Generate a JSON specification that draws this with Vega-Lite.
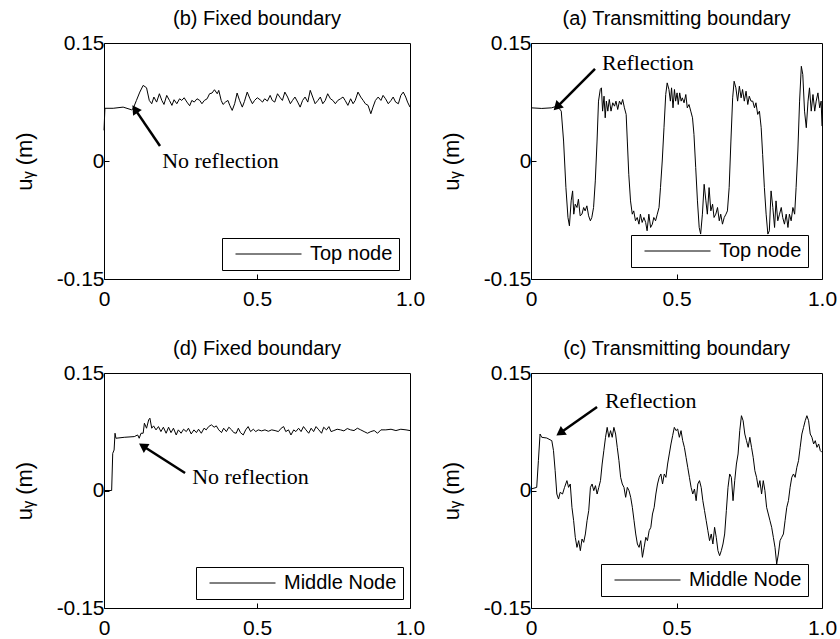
{
"$schema": "https://vega.github.io/schema/vega-lite/v6.json",
"padding": {"left": 12, "top": 8, "right": 5, "bottom": 2},
"background": "white",
"config": {
 "view": {"stroke": "black", "strokeWidth": 1},
 "font": "Liberation Sans",
 "axis": {"grid": false, "domain": false, "labelFontSize": 21, "titleFontSize": 22, "titleFontWeight": "normal", "labelColor": "black", "titleColor": "black", "tickColor": "black", "tickSize": -5, "labelPadding": 6, "labelFont": "Liberation Sans", "titleFont": "Liberation Sans", "labelFlush": false},
 "axisX": {"labelPadding": 14},
 "axisY": {"titlePadding": 20, "labelPadding": 5},
 "title": {"fontSize": 20, "fontWeight": "normal", "color": "black", "offset": 3, "font": "Liberation Sans"},
 "legend": {"strokeColor": "black", "fillColor": "white", "padding": 6, "symbolType": "stroke", "symbolSize": 4356, "symbolStrokeWidth": 1, "symbolOffset": 7, "labelOffset": 8, "labelFontSize": 20, "labelFont": "Liberation Sans", "labelColor": "black", "cornerRadius": 0, "clipHeight": 20}
},
"datasets": {
 "b": [
  {"t":0,"u":0.039},{"t":0.003,"u":0.067},{"t":0.03,"u":0.067},{"t":0.0625,"u":0.0685},{"t":0.09,"u":0.0651},{"t":0.095,"u":0.0664},{"t":0.106,"u":0.077},{"t":0.117,"u":0.0876},{"t":0.128,"u":0.0961},{"t":0.139,"u":0.0931},{"t":0.148,"u":0.077},{"t":0.156,"u":0.0728},{"t":0.163,"u":0.0813},{"t":0.172,"u":0.0749},{"t":0.181,"u":0.0855},{"t":0.189,"u":0.077},{"t":0.196,"u":0.0719},{"t":0.205,"u":0.0834},{"t":0.214,"u":0.077},{"t":0.222,"u":0.0707},{"t":0.229,"u":0.0779},{"t":0.238,"u":0.0728},{"t":0.247,"u":0.0791},{"t":0.254,"u":0.077},{"t":0.262,"u":0.0804},{"t":0.271,"u":0.0749},{"t":0.28,"u":0.0702},{"t":0.287,"u":0.077},{"t":0.295,"u":0.0749},{"t":0.304,"u":0.0791},{"t":0.313,"u":0.077},{"t":0.32,"u":0.0728},{"t":0.328,"u":0.077},{"t":0.337,"u":0.0791},{"t":0.345,"u":0.0855},{"t":0.353,"u":0.0864},{"t":0.361,"u":0.0906},{"t":0.37,"u":0.0855},{"t":0.375,"u":0.0898},{"t":0.383,"u":0.077},{"t":0.389,"u":0.0719},{"t":0.397,"u":0.0749},{"t":0.405,"u":0.077},{"t":0.411,"u":0.0707},{"t":0.419,"u":0.0643},{"t":0.427,"u":0.0728},{"t":0.435,"u":0.0864},{"t":0.443,"u":0.077},{"t":0.452,"u":0.0685},{"t":0.459,"u":0.0758},{"t":0.468,"u":0.0876},{"t":0.477,"u":0.0791},{"t":0.485,"u":0.0728},{"t":0.492,"u":0.077},{"t":0.501,"u":0.0804},{"t":0.51,"u":0.0779},{"t":0.518,"u":0.0749},{"t":0.525,"u":0.0791},{"t":0.534,"u":0.0762},{"t":0.543,"u":0.0834},{"t":0.55,"u":0.077},{"t":0.558,"u":0.0749},{"t":0.567,"u":0.0855},{"t":0.576,"u":0.0804},{"t":0.583,"u":0.077},{"t":0.591,"u":0.0876},{"t":0.6,"u":0.0813},{"t":0.609,"u":0.0728},{"t":0.616,"u":0.077},{"t":0.624,"u":0.0813},{"t":0.633,"u":0.0749},{"t":0.641,"u":0.0685},{"t":0.649,"u":0.077},{"t":0.657,"u":0.0813},{"t":0.666,"u":0.0749},{"t":0.674,"u":0.0898},{"t":0.682,"u":0.0813},{"t":0.69,"u":0.0728},{"t":0.699,"u":0.077},{"t":0.707,"u":0.0813},{"t":0.715,"u":0.0728},{"t":0.723,"u":0.077},{"t":0.731,"u":0.0855},{"t":0.74,"u":0.0791},{"t":0.748,"u":0.077},{"t":0.756,"u":0.0728},{"t":0.764,"u":0.077},{"t":0.773,"u":0.0791},{"t":0.781,"u":0.0813},{"t":0.788,"u":0.077},{"t":0.797,"u":0.0707},{"t":0.806,"u":0.0791},{"t":0.814,"u":0.0728},{"t":0.821,"u":0.077},{"t":0.83,"u":0.0876},{"t":0.839,"u":0.0813},{"t":0.847,"u":0.077},{"t":0.854,"u":0.0728},{"t":0.863,"u":0.0707},{"t":0.872,"u":0.0601},{"t":0.879,"u":0.0685},{"t":0.887,"u":0.077},{"t":0.896,"u":0.0813},{"t":0.905,"u":0.077},{"t":0.912,"u":0.0834},{"t":0.92,"u":0.0791},{"t":0.929,"u":0.0728},{"t":0.938,"u":0.077},{"t":0.945,"u":0.0813},{"t":0.953,"u":0.0749},{"t":0.962,"u":0.0728},{"t":0.97,"u":0.0834},{"t":0.978,"u":0.0876},{"t":0.986,"u":0.0813},{"t":0.992,"u":0.0749},{"t":1.0,"u":0.0685}
 ],
 "a": [
  {"t":0,"u":0.0676},{"t":0.037,"u":0.0668},{"t":0.071,"u":0.0676},{"t":0.089,"u":0.0697},{"t":0.097,"u":0.0668},{"t":0.104,"u":0.0634},{"t":0.112,"u":0.0254},{"t":0.12,"u":-0.0338},{"t":0.127,"u":-0.0718},{"t":0.132,"u":-0.0824},{"t":0.138,"u":-0.0507},{"t":0.143,"u":-0.038},{"t":0.147,"u":-0.0676},{"t":0.152,"u":-0.0549},{"t":0.158,"u":-0.0591},{"t":0.163,"u":-0.0486},{"t":0.169,"u":-0.0697},{"t":0.175,"u":-0.0676},{"t":0.181,"u":-0.0591},{"t":0.186,"u":-0.0634},{"t":0.192,"u":-0.057},{"t":0.198,"u":-0.0697},{"t":0.204,"u":-0.076},{"t":0.209,"u":-0.0718},{"t":0.215,"u":-0.0591},{"t":0.221,"u":-0.0253},{"t":0.227,"u":0.0254},{"t":0.232,"u":0.0761},{"t":0.238,"u":0.0909},{"t":0.242,"u":0.093},{"t":0.246,"u":0.0634},{"t":0.251,"u":0.0824},{"t":0.255,"u":0.0549},{"t":0.259,"u":0.0761},{"t":0.264,"u":0.0634},{"t":0.269,"u":0.0782},{"t":0.275,"u":0.0634},{"t":0.281,"u":0.074},{"t":0.287,"u":0.0697},{"t":0.292,"u":0.0761},{"t":0.298,"u":0.0655},{"t":0.304,"u":0.0761},{"t":0.31,"u":0.0718},{"t":0.315,"u":0.0782},{"t":0.321,"u":0.0676},{"t":0.327,"u":0.0592},{"t":0.331,"u":0.0254},{"t":0.336,"u":-0.0169},{"t":0.342,"u":-0.0507},{"t":0.348,"u":-0.0676},{"t":0.353,"u":-0.0634},{"t":0.359,"u":-0.076},{"t":0.365,"u":-0.0718},{"t":0.371,"u":-0.0803},{"t":0.376,"u":-0.0676},{"t":0.382,"u":-0.0781},{"t":0.388,"u":-0.0718},{"t":0.394,"u":-0.0781},{"t":0.399,"u":-0.0887},{"t":0.405,"u":-0.0676},{"t":0.411,"u":-0.0845},{"t":0.417,"u":-0.0803},{"t":0.422,"u":-0.0718},{"t":0.428,"u":-0.076},{"t":0.434,"u":-0.0676},{"t":0.44,"u":-0.0591},{"t":0.445,"u":-0.0338},{"t":0.451,"u":0.0},{"t":0.457,"u":0.0423},{"t":0.463,"u":0.0845},{"t":0.468,"u":0.0993},{"t":0.474,"u":0.0909},{"t":0.479,"u":0.0761},{"t":0.483,"u":0.093},{"t":0.488,"u":0.0676},{"t":0.493,"u":0.0909},{"t":0.497,"u":0.0761},{"t":0.502,"u":0.0866},{"t":0.506,"u":0.0718},{"t":0.511,"u":0.0866},{"t":0.516,"u":0.0761},{"t":0.52,"u":0.0803},{"t":0.526,"u":0.074},{"t":0.532,"u":0.0845},{"t":0.537,"u":0.0676},{"t":0.543,"u":0.0718},{"t":0.549,"u":0.0634},{"t":0.555,"u":0.0549},{"t":0.56,"u":0.0338},{"t":0.566,"u":-0.0084},{"t":0.572,"u":-0.0507},{"t":0.578,"u":-0.0845},{"t":0.583,"u":-0.0929},{"t":0.589,"u":-0.0676},{"t":0.595,"u":-0.0296},{"t":0.601,"u":-0.0507},{"t":0.606,"u":-0.0676},{"t":0.612,"u":-0.0338},{"t":0.618,"u":-0.0634},{"t":0.624,"u":-0.0549},{"t":0.629,"u":-0.0718},{"t":0.635,"u":-0.0676},{"t":0.641,"u":-0.0591},{"t":0.647,"u":-0.076},{"t":0.652,"u":-0.0676},{"t":0.658,"u":-0.0803},{"t":0.664,"u":-0.0718},{"t":0.67,"u":-0.0676},{"t":0.675,"u":-0.0634},{"t":0.681,"u":-0.0338},{"t":0.687,"u":0.0254},{"t":0.693,"u":0.0803},{"t":0.698,"u":0.1014},{"t":0.704,"u":0.093},{"t":0.71,"u":0.0761},{"t":0.716,"u":0.0951},{"t":0.722,"u":0.0803},{"t":0.727,"u":0.0909},{"t":0.733,"u":0.0761},{"t":0.739,"u":0.0887},{"t":0.745,"u":0.0718},{"t":0.75,"u":0.0824},{"t":0.756,"u":0.0761},{"t":0.762,"u":0.0761},{"t":0.768,"u":0.0676},{"t":0.773,"u":0.074},{"t":0.779,"u":0.0592},{"t":0.785,"u":0.0634},{"t":0.791,"u":0.0423},{"t":0.796,"u":0.0085},{"t":0.802,"u":-0.0338},{"t":0.808,"u":-0.0676},{"t":0.814,"u":-0.0929},{"t":0.819,"u":-0.0887},{"t":0.825,"u":-0.038},{"t":0.831,"u":-0.0591},{"t":0.837,"u":-0.0845},{"t":0.842,"u":-0.0507},{"t":0.848,"u":-0.076},{"t":0.854,"u":-0.0676},{"t":0.86,"u":-0.0591},{"t":0.865,"u":-0.0718},{"t":0.871,"u":-0.0803},{"t":0.877,"u":-0.0676},{"t":0.883,"u":-0.0845},{"t":0.888,"u":-0.0676},{"t":0.894,"u":-0.076},{"t":0.9,"u":-0.0591},{"t":0.906,"u":-0.0676},{"t":0.911,"u":-0.0338},{"t":0.917,"u":0.0127},{"t":0.923,"u":0.0761},{"t":0.929,"u":0.1204},{"t":0.934,"u":0.1099},{"t":0.94,"u":0.0634},{"t":0.946,"u":0.0423},{"t":0.952,"u":0.0761},{"t":0.957,"u":0.093},{"t":0.963,"u":0.0634},{"t":0.969,"u":0.0845},{"t":0.975,"u":0.0634},{"t":0.98,"u":0.0761},{"t":0.986,"u":0.0866},{"t":0.992,"u":0.0676},{"t":0.997,"u":0.0761},{"t":1.0,"u":0.0444}
 ],
 "d": [
  {"t":0,"u":0},{"t":0.025,"u":0},{"t":0.0285,"u":0.0474},{"t":0.033,"u":0.0517},{"t":0.036,"u":0.0731},{"t":0.039,"u":0.0667},{"t":0.066,"u":0.0679},{"t":0.099,"u":0.0688},{"t":0.11,"u":0.0709},{"t":0.115,"u":0.0667},{"t":0.121,"u":0.0731},{"t":0.128,"u":0.0731},{"t":0.132,"u":0.0859},{"t":0.139,"u":0.0795},{"t":0.146,"u":0.0902},{"t":0.15,"u":0.0923},{"t":0.156,"u":0.0795},{"t":0.162,"u":0.0825},{"t":0.17,"u":0.0774},{"t":0.178,"u":0.0816},{"t":0.186,"u":0.0752},{"t":0.194,"u":0.0808},{"t":0.203,"u":0.0731},{"t":0.211,"u":0.0808},{"t":0.219,"u":0.0739},{"t":0.227,"u":0.0795},{"t":0.236,"u":0.0709},{"t":0.243,"u":0.0774},{"t":0.252,"u":0.0731},{"t":0.26,"u":0.0782},{"t":0.269,"u":0.0752},{"t":0.276,"u":0.0795},{"t":0.285,"u":0.0722},{"t":0.294,"u":0.0774},{"t":0.302,"u":0.0739},{"t":0.309,"u":0.0782},{"t":0.318,"u":0.0731},{"t":0.327,"u":0.0795},{"t":0.334,"u":0.0774},{"t":0.342,"u":0.0816},{"t":0.351,"u":0.0838},{"t":0.36,"u":0.0808},{"t":0.367,"u":0.0825},{"t":0.375,"u":0.0774},{"t":0.384,"u":0.0739},{"t":0.391,"u":0.0795},{"t":0.4,"u":0.0752},{"t":0.408,"u":0.0808},{"t":0.417,"u":0.0774},{"t":0.424,"u":0.0739},{"t":0.432,"u":0.0731},{"t":0.439,"u":0.0795},{"t":0.446,"u":0.0739},{"t":0.455,"u":0.0709},{"t":0.463,"u":0.0774},{"t":0.471,"u":0.0816},{"t":0.479,"u":0.0752},{"t":0.488,"u":0.0782},{"t":0.496,"u":0.0752},{"t":0.504,"u":0.0774},{"t":0.515,"u":0.0761},{"t":0.526,"u":0.0774},{"t":0.537,"u":0.0756},{"t":0.548,"u":0.0774},{"t":0.559,"u":0.0765},{"t":0.57,"u":0.0752},{"t":0.579,"u":0.0795},{"t":0.587,"u":0.0816},{"t":0.594,"u":0.0752},{"t":0.603,"u":0.0774},{"t":0.611,"u":0.0709},{"t":0.62,"u":0.0774},{"t":0.627,"u":0.0752},{"t":0.636,"u":0.0795},{"t":0.644,"u":0.0752},{"t":0.652,"u":0.0816},{"t":0.66,"u":0.0774},{"t":0.669,"u":0.0731},{"t":0.677,"u":0.0795},{"t":0.685,"u":0.0752},{"t":0.693,"u":0.0816},{"t":0.702,"u":0.0774},{"t":0.711,"u":0.0731},{"t":0.718,"u":0.0808},{"t":0.727,"u":0.0774},{"t":0.735,"u":0.0816},{"t":0.742,"u":0.0752},{"t":0.751,"u":0.0765},{"t":0.762,"u":0.0782},{"t":0.773,"u":0.0774},{"t":0.784,"u":0.0761},{"t":0.795,"u":0.0791},{"t":0.806,"u":0.0774},{"t":0.817,"u":0.0765},{"t":0.828,"u":0.0795},{"t":0.839,"u":0.0774},{"t":0.85,"u":0.0752},{"t":0.861,"u":0.0731},{"t":0.872,"u":0.0752},{"t":0.883,"u":0.0765},{"t":0.894,"u":0.0731},{"t":0.905,"u":0.0774},{"t":0.921,"u":0.0774},{"t":0.938,"u":0.0782},{"t":0.954,"u":0.0765},{"t":0.97,"u":0.0782},{"t":0.987,"u":0.0774},{"t":1.0,"u":0.0765}
 ],
 "c": [
  {"t":0,"u":0.0019},{"t":0.0196,"u":0.004},{"t":0.0254,"u":0.0381},{"t":0.0311,"u":0.0721},{"t":0.0369,"u":0.0679},{"t":0.0542,"u":0.067},{"t":0.0715,"u":0.0636},{"t":0.0773,"u":0.0509},{"t":0.083,"u":0.0253},{"t":0.0888,"u":-0.0045},{"t":0.0946,"u":-0.0109},{"t":0.1003,"u":-0.0023},{"t":0.1084,"u":-0.0045},{"t":0.1153,"u":0.004},{"t":0.1234,"u":0.0126},{"t":0.1292,"u":0.004},{"t":0.1349,"u":0.0083},{"t":0.1407,"u":-0.0215},{"t":0.1465,"u":-0.0385},{"t":0.1522,"u":-0.0598},{"t":0.158,"u":-0.0726},{"t":0.1638,"u":-0.064},{"t":0.1696,"u":-0.0768},{"t":0.1753,"u":-0.0619},{"t":0.1811,"u":-0.0662},{"t":0.1869,"u":-0.0555},{"t":0.1926,"u":-0.0385},{"t":0.1984,"u":-0.0257},{"t":0.2042,"u":0.004},{"t":0.2099,"u":0.0083},{"t":0.2157,"u":-0.0002},{"t":0.2215,"u":0.0062},{"t":0.2272,"u":-0.0045},{"t":0.233,"u":0.004},{"t":0.2388,"u":0.0126},{"t":0.2445,"u":0.0338},{"t":0.2503,"u":0.0509},{"t":0.2561,"u":0.0679},{"t":0.2618,"u":0.0806},{"t":0.2676,"u":0.0679},{"t":0.2734,"u":0.0764},{"t":0.2791,"u":0.0679},{"t":0.2849,"u":0.0806},{"t":0.2907,"u":0.0721},{"t":0.2964,"u":0.0551},{"t":0.3022,"u":0.0381},{"t":0.308,"u":0.0168},{"t":0.3137,"u":0.0083},{"t":0.3195,"u":0.004},{"t":0.3253,"u":-0.0087},{"t":0.331,"u":0.004},{"t":0.3368,"u":-0.0002},{"t":0.3426,"u":-0.0087},{"t":0.3483,"u":-0.0215},{"t":0.3541,"u":-0.0385},{"t":0.3599,"u":-0.0555},{"t":0.3656,"u":-0.0683},{"t":0.3714,"u":-0.0726},{"t":0.3772,"u":-0.064},{"t":0.3829,"u":-0.0853},{"t":0.3887,"u":-0.0726},{"t":0.3945,"u":-0.0598},{"t":0.4002,"u":-0.064},{"t":0.406,"u":-0.0513},{"t":0.4118,"u":-0.047},{"t":0.4175,"u":-0.03},{"t":0.4233,"u":-0.0215},{"t":0.4291,"u":-0.0045},{"t":0.4348,"u":0.0083},{"t":0.4406,"u":0.0168},{"t":0.4464,"u":0.0211},{"t":0.4521,"u":0.0083},{"t":0.4579,"u":0.0211},{"t":0.4637,"u":0.0168},{"t":0.4694,"u":0.0338},{"t":0.4752,"u":0.0466},{"t":0.481,"u":0.0594},{"t":0.4867,"u":0.07},{"t":0.4925,"u":0.0806},{"t":0.4983,"u":0.0764},{"t":0.504,"u":0.0785},{"t":0.5098,"u":0.0679},{"t":0.5156,"u":0.0764},{"t":0.5213,"u":0.0636},{"t":0.5271,"u":0.0551},{"t":0.5329,"u":0.0423},{"t":0.5386,"u":0.0296},{"t":0.5444,"u":0.0168},{"t":0.5502,"u":0.004},{"t":0.5559,"u":-0.0045},{"t":0.5617,"u":0.0019},{"t":0.5675,"u":-0.013},{"t":0.5732,"u":0.0083},{"t":0.579,"u":0.0126},{"t":0.5848,"u":0.004},{"t":0.5905,"u":-0.013},{"t":0.5963,"u":-0.0257},{"t":0.6021,"u":-0.0385},{"t":0.6078,"u":-0.0513},{"t":0.6136,"u":-0.064},{"t":0.6194,"u":-0.0555},{"t":0.6251,"u":-0.0683},{"t":0.6309,"u":-0.047},{"t":0.6367,"u":-0.0598},{"t":0.6424,"u":-0.0768},{"t":0.6482,"u":-0.0832},{"t":0.654,"u":-0.0768},{"t":0.6597,"u":-0.0683},{"t":0.6655,"u":-0.0555},{"t":0.6713,"u":-0.0257},{"t":0.677,"u":0.004},{"t":0.6828,"u":0.0211},{"t":0.6886,"u":0.0168},{"t":0.6943,"u":-0.013},{"t":0.7001,"u":0.0126},{"t":0.7059,"u":0.0338},{"t":0.7116,"u":0.0466},{"t":0.7174,"u":0.0764},{"t":0.7232,"u":0.0955},{"t":0.7289,"u":0.0891},{"t":0.7347,"u":0.0721},{"t":0.7405,"u":0.0636},{"t":0.7463,"u":0.0551},{"t":0.752,"u":0.0679},{"t":0.7578,"u":0.0551},{"t":0.7636,"u":0.0423},{"t":0.7693,"u":0.0253},{"t":0.7751,"u":0.0168},{"t":0.7809,"u":0.004},{"t":0.7866,"u":0.0126},{"t":0.7924,"u":-0.0045},{"t":0.7982,"u":0.0126},{"t":0.8039,"u":-0.0002},{"t":0.8097,"u":-0.0215},{"t":0.8155,"u":-0.03},{"t":0.8212,"u":-0.0385},{"t":0.827,"u":-0.047},{"t":0.8328,"u":-0.0598},{"t":0.8385,"u":-0.0726},{"t":0.8443,"u":-0.0938},{"t":0.8501,"u":-0.0811},{"t":0.8558,"u":-0.064},{"t":0.8616,"u":-0.0598},{"t":0.8674,"u":-0.0555},{"t":0.8731,"u":-0.0385},{"t":0.8789,"u":-0.0215},{"t":0.8847,"u":-0.013},{"t":0.8904,"u":0.004},{"t":0.8962,"u":0.0168},{"t":0.902,"u":0.0211},{"t":0.9077,"u":0.0168},{"t":0.9135,"u":0.0296},{"t":0.9193,"u":0.0381},{"t":0.925,"u":0.0551},{"t":0.9308,"u":0.0721},{"t":0.9366,"u":0.0806},{"t":0.9423,"u":0.0891},{"t":0.9481,"u":0.0955},{"t":0.9539,"u":0.0891},{"t":0.9596,"u":0.0721},{"t":0.9654,"u":0.0679},{"t":0.9712,"u":0.0594},{"t":0.9769,"u":0.0636},{"t":0.9827,"u":0.0551},{"t":0.9885,"u":0.0594},{"t":0.9942,"u":0.0509},{"t":1.0,"u":0.0487}
 ],
 "arrows": [
  {"p":"b","t1":0.183,"u1":0.019,"t2":0.101,"u2":0.066},
  {"p":"a","t1":0.22,"u1":0.117,"t2":0.089,"u2":0.0686},
  {"p":"d","t1":0.265,"u1":0.0223,"t2":0.127,"u2":0.0568},
  {"p":"c","t1":0.227,"u1":0.1066,"t2":0.1,"u2":0.0734}
 ],
 "notes": [
  {"p":"b","t":0.19,"u":0.0,"label":"No reflection"},
  {"p":"a","t":0.244,"u":0.1246,"label":"Reflection"},
  {"p":"d","t":0.288,"u":0.0172,"label":"No reflection"},
  {"p":"c","t":0.254,"u":0.1143,"label":"Reflection"}
 ]
},
"columns": 2,
"spacing": {"row": 94, "column": 121},
"bounds": "flush",
"resolve": {"scale": {"color": "independent"}, "legend": {"color": "independent"}},
"concat": [
   {
    "width": 306, "height": 236,
    "title": "(b) Fixed boundary",
    "layer": [
     {"data": {"name": "b"}, "mark": {"type": "line", "color": "black", "strokeWidth": 1},
      "encoding": {
       "x": {"field": "t", "type": "quantitative", "title": null, "scale": {"domain": [0, 1], "nice": false}, "axis": {"values": [0, 0.5, 1], "labelExpr": "datum.value == 0 ? '0' : format(datum.value, '.1f')"}},
       "y": {"field": "u", "type": "quantitative", "title": "uᵧ (m)", "scale": {"domain": [-0.15, 0.15], "nice": false, "zero": false}, "axis": {"values": [-0.15, 0, 0.15], "labelExpr": "datum.value == 0 ? '0' : (datum.value < 0 ? '-' : '') + format(abs(datum.value), '.2f')"}},
       "color": {"datum": "Top node", "type": "nominal", "scale": {"range": ["black"]}, "legend": {"title": null, "orient": "none", "legendX": 118, "legendY": 195}}
      }},
     {"data": {"name": "arrows"}, "transform": [{"filter": "datum.p == 'b'"}], "mark": {"type": "rule", "color": "black", "strokeWidth": 2.5},
      "encoding": {"x": {"field": "t1", "type": "quantitative"}, "y": {"field": "u1", "type": "quantitative"}, "x2": {"field": "t2"}, "y2": {"field": "u2"}}},
     {"data": {"name": "arrows"}, "transform": [{"filter": "datum.p == 'b'"}], "mark": {"type": "point", "shape": "triangle-up", "filled": true, "size": 110, "angle": 326, "color": "black", "opacity": 1},
      "encoding": {"x": {"field": "t2", "type": "quantitative"}, "y": {"field": "u2", "type": "quantitative"}}},
     {"data": {"name": "notes"}, "transform": [{"filter": "datum.p == 'b'"}], "mark": {"type": "text", "font": "Liberation Serif", "fontSize": 22, "align": "left", "baseline": "middle", "color": "black"},
      "encoding": {"x": {"field": "t", "type": "quantitative"}, "y": {"field": "u", "type": "quantitative"}, "text": {"field": "label"}}}
    ]
   },
   {
    "width": 291, "height": 236,
    "title": "(a) Transmitting boundary",
    "layer": [
     {"data": {"name": "a"}, "mark": {"type": "line", "color": "black", "strokeWidth": 1},
      "encoding": {
       "x": {"field": "t", "type": "quantitative", "title": null, "scale": {"domain": [0, 1], "nice": false}, "axis": {"values": [0, 0.5, 1], "labelExpr": "datum.value == 0 ? '0' : format(datum.value, '.1f')"}},
       "y": {"field": "u", "type": "quantitative", "title": "uᵧ (m)", "scale": {"domain": [-0.15, 0.15], "nice": false, "zero": false}, "axis": {"values": [-0.15, 0, 0.15], "labelExpr": "datum.value == 0 ? '0' : (datum.value < 0 ? '-' : '') + format(abs(datum.value), '.2f')"}},
       "color": {"datum": "Top node", "type": "nominal", "scale": {"range": ["black"]}, "legend": {"title": null, "orient": "none", "legendX": 100, "legendY": 192}}
      }},
     {"data": {"name": "arrows"}, "transform": [{"filter": "datum.p == 'a'"}], "mark": {"type": "rule", "color": "black", "strokeWidth": 2.5},
      "encoding": {"x": {"field": "t1", "type": "quantitative"}, "y": {"field": "u1", "type": "quantitative"}, "x2": {"field": "t2"}, "y2": {"field": "u2"}}},
     {"data": {"name": "arrows"}, "transform": [{"filter": "datum.p == 'a'"}], "mark": {"type": "point", "shape": "triangle-up", "filled": true, "size": 110, "angle": 225, "color": "black", "opacity": 1},
      "encoding": {"x": {"field": "t2", "type": "quantitative"}, "y": {"field": "u2", "type": "quantitative"}}},
     {"data": {"name": "notes"}, "transform": [{"filter": "datum.p == 'a'"}], "mark": {"type": "text", "font": "Liberation Serif", "fontSize": 22, "align": "left", "baseline": "middle", "color": "black"},
      "encoding": {"x": {"field": "t", "type": "quantitative"}, "y": {"field": "u", "type": "quantitative"}, "text": {"field": "label"}}}
    ]
   },
   {
    "width": 306, "height": 235,
    "title": "(d) Fixed boundary",
    "layer": [
     {"data": {"name": "d"}, "mark": {"type": "line", "color": "black", "strokeWidth": 1},
      "encoding": {
       "x": {"field": "t", "type": "quantitative", "title": null, "scale": {"domain": [0, 1], "nice": false}, "axis": {"values": [0, 0.5, 1], "labelExpr": "datum.value == 0 ? '0' : format(datum.value, '.1f')"}},
       "y": {"field": "u", "type": "quantitative", "title": "uᵧ (m)", "scale": {"domain": [-0.15, 0.15], "nice": false, "zero": false}, "axis": {"values": [-0.15, 0, 0.15], "labelExpr": "datum.value == 0 ? '0' : (datum.value < 0 ? '-' : '') + format(abs(datum.value), '.2f')"}},
       "color": {"datum": "Middle Node", "type": "nominal", "scale": {"range": ["black"]}, "legend": {"title": null, "orient": "none", "legendX": 92, "legendY": 194}}
      }},
     {"data": {"name": "arrows"}, "transform": [{"filter": "datum.p == 'd'"}], "mark": {"type": "rule", "color": "black", "strokeWidth": 2.5},
      "encoding": {"x": {"field": "t1", "type": "quantitative"}, "y": {"field": "u1", "type": "quantitative"}, "x2": {"field": "t2"}, "y2": {"field": "u2"}}},
     {"data": {"name": "arrows"}, "transform": [{"filter": "datum.p == 'd'"}], "mark": {"type": "point", "shape": "triangle-up", "filled": true, "size": 110, "angle": 303, "color": "black", "opacity": 1},
      "encoding": {"x": {"field": "t2", "type": "quantitative"}, "y": {"field": "u2", "type": "quantitative"}}},
     {"data": {"name": "notes"}, "transform": [{"filter": "datum.p == 'd'"}], "mark": {"type": "text", "font": "Liberation Serif", "fontSize": 22, "align": "left", "baseline": "middle", "color": "black"},
      "encoding": {"x": {"field": "t", "type": "quantitative"}, "y": {"field": "u", "type": "quantitative"}, "text": {"field": "label"}}}
    ]
   },
   {
    "width": 291, "height": 235,
    "title": "(c) Transmitting boundary",
    "layer": [
     {"data": {"name": "c"}, "mark": {"type": "line", "color": "black", "strokeWidth": 1},
      "encoding": {
       "x": {"field": "t", "type": "quantitative", "title": null, "scale": {"domain": [0, 1], "nice": false}, "axis": {"values": [0, 0.5, 1], "labelExpr": "datum.value == 0 ? '0' : format(datum.value, '.1f')"}},
       "y": {"field": "u", "type": "quantitative", "title": "uᵧ (m)", "scale": {"domain": [-0.15, 0.15], "nice": false, "zero": false}, "axis": {"values": [-0.15, 0, 0.15], "labelExpr": "datum.value == 0 ? '0' : (datum.value < 0 ? '-' : '') + format(abs(datum.value), '.2f')"}},
       "color": {"datum": "Middle Node", "type": "nominal", "scale": {"range": ["black"]}, "legend": {"title": null, "orient": "none", "legendX": 70, "legendY": 191}}
      }},
     {"data": {"name": "arrows"}, "transform": [{"filter": "datum.p == 'c'"}], "mark": {"type": "rule", "color": "black", "strokeWidth": 2.5},
      "encoding": {"x": {"field": "t1", "type": "quantitative"}, "y": {"field": "u1", "type": "quantitative"}, "x2": {"field": "t2"}, "y2": {"field": "u2"}}},
     {"data": {"name": "arrows"}, "transform": [{"filter": "datum.p == 'c'"}], "mark": {"type": "point", "shape": "triangle-up", "filled": true, "size": 110, "angle": 235, "color": "black", "opacity": 1},
      "encoding": {"x": {"field": "t2", "type": "quantitative"}, "y": {"field": "u2", "type": "quantitative"}}},
     {"data": {"name": "notes"}, "transform": [{"filter": "datum.p == 'c'"}], "mark": {"type": "text", "font": "Liberation Serif", "fontSize": 22, "align": "left", "baseline": "middle", "color": "black"},
      "encoding": {"x": {"field": "t", "type": "quantitative"}, "y": {"field": "u", "type": "quantitative"}, "text": {"field": "label"}}}
    ]
   }
]
}
